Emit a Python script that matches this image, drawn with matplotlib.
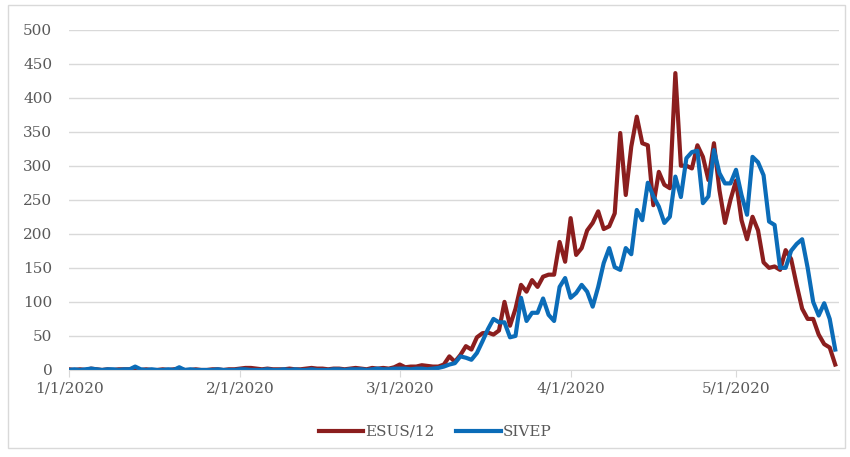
import matplotlib.pyplot as plt
from matplotlib.patches import Rectangle

# daily counts from 1/1/2020 (day 0) to 5/19/2020 (day 139)
esus_early = [1, 0, 1, 0, 2, 1, 0, 1, 0, 1, 1, 1, 2, 0, 1, 0, 0, 1, 0, 1,
              2, 0, 0, 1, 0, 0, 1, 1, 0, 1, 1, 2, 3, 3, 2, 1, 2, 1, 1, 1,
              2, 1, 1, 2, 3, 2, 2, 1, 2, 2, 1, 2, 3, 2, 1, 3, 2, 3, 2, 4]
esus_late = [8, 4, 5, 5, 7, 6, 5, 5, 8, 20, 12, 22, 35, 30, 48, 54, 55, 52, 58, 100,
             65, 90, 125, 115, 132, 122, 137, 140, 140, 188, 159, 223, 169, 179, 205, 216, 233, 207, 211, 230,
             348, 257, 328, 372, 333, 330, 242, 291, 272, 267, 436, 300, 300, 296, 330, 313, 279, 333, 264, 216,
             250, 278, 220, 192, 225, 205, 158, 150, 152, 147, 176, 163, 125, 90, 75, 75, 52, 38, 33, 8]

sivep_early = [0, 1, 0, 1, 2, 1, 0, 1, 1, 0, 1, 1, 5, 1, 0, 1, 0, 0, 1, 0,
               4, 0, 1, 0, 0, 0, 0, 1, 0, 0, 0, 1, 1, 0, 0, 0, 1, 0, 0, 1,
               0, 1, 0, 0, 1, 0, 0, 0, 1, 1, 0, 1, 1, 1, 0, 1, 2, 1, 1, 2]
sivep_late = [2, 2, 1, 2, 2, 1, 2, 3, 5, 8, 10, 20, 18, 15, 25, 42, 60, 75, 70, 70,
              48, 50, 106, 72, 84, 84, 105, 81, 72, 122, 135, 106, 113, 125, 115, 93, 122, 157, 179, 151,
              147, 179, 170, 235, 220, 275, 255, 240, 216, 225, 284, 254, 311, 320, 322, 245, 255, 323, 289, 274,
              274, 294, 257, 228, 313, 305, 286, 218, 213, 150, 150, 175, 185, 192, 150, 100, 80, 98, 75, 30]

esus = esus_early + esus_late
sivep = sivep_early + sivep_late
days = list(range(len(esus)))

tick_days = [0, 31, 60, 91, 121]
tick_labels = ['1/1/2020', '2/1/2020', '3/1/2020', '4/1/2020', '5/1/2020']

plt.rcParams['font.family'] = ['DejaVu Serif']

fig = plt.figure(figsize=(8.5, 4.57), dpi=100)
ax = fig.add_axes([0.0812, 0.1904, 0.9053, 0.745])

ax.plot(days, esus, color='#8B1E1E', lw=3.0, label='ESUS/12', solid_joinstyle='round')
ax.plot(days, sivep, color='#0B6CB8', lw=3.0, label='SIVEP', solid_joinstyle='round')

ax.set_xlim(0, 139.6)
ax.set_ylim(0, 500)
ax.set_yticks(range(0, 501, 50))
ax.set_xticks(tick_days)
ax.set_xticklabels(tick_labels)

ax.grid(axis='y', color='#d9d9d9', lw=1)
ax.set_axisbelow(True)
for s in ['left', 'right', 'top']:
    ax.spines[s].set_visible(False)
ax.spines['bottom'].set_color('#d9d9d9')
ax.tick_params(axis='y', length=0, pad=12, labelsize=11, labelcolor='#595959')
ax.tick_params(axis='x', length=5, color='#d9d9d9', pad=3, labelsize=11, labelcolor='#595959')

fig.legend(loc='center', bbox_to_anchor=(0.512, 0.055), ncol=2, frameon=False,
           fontsize=11, labelcolor='#595959', handlelength=2.9, handletextpad=0.15,
           columnspacing=1.4)

fig.patches.append(Rectangle((0.009, 0.02), 0.985, 0.97, transform=fig.transFigure,
                             fill=False, edgecolor='#d9d9d9', lw=1))

plt.savefig('out.png')
